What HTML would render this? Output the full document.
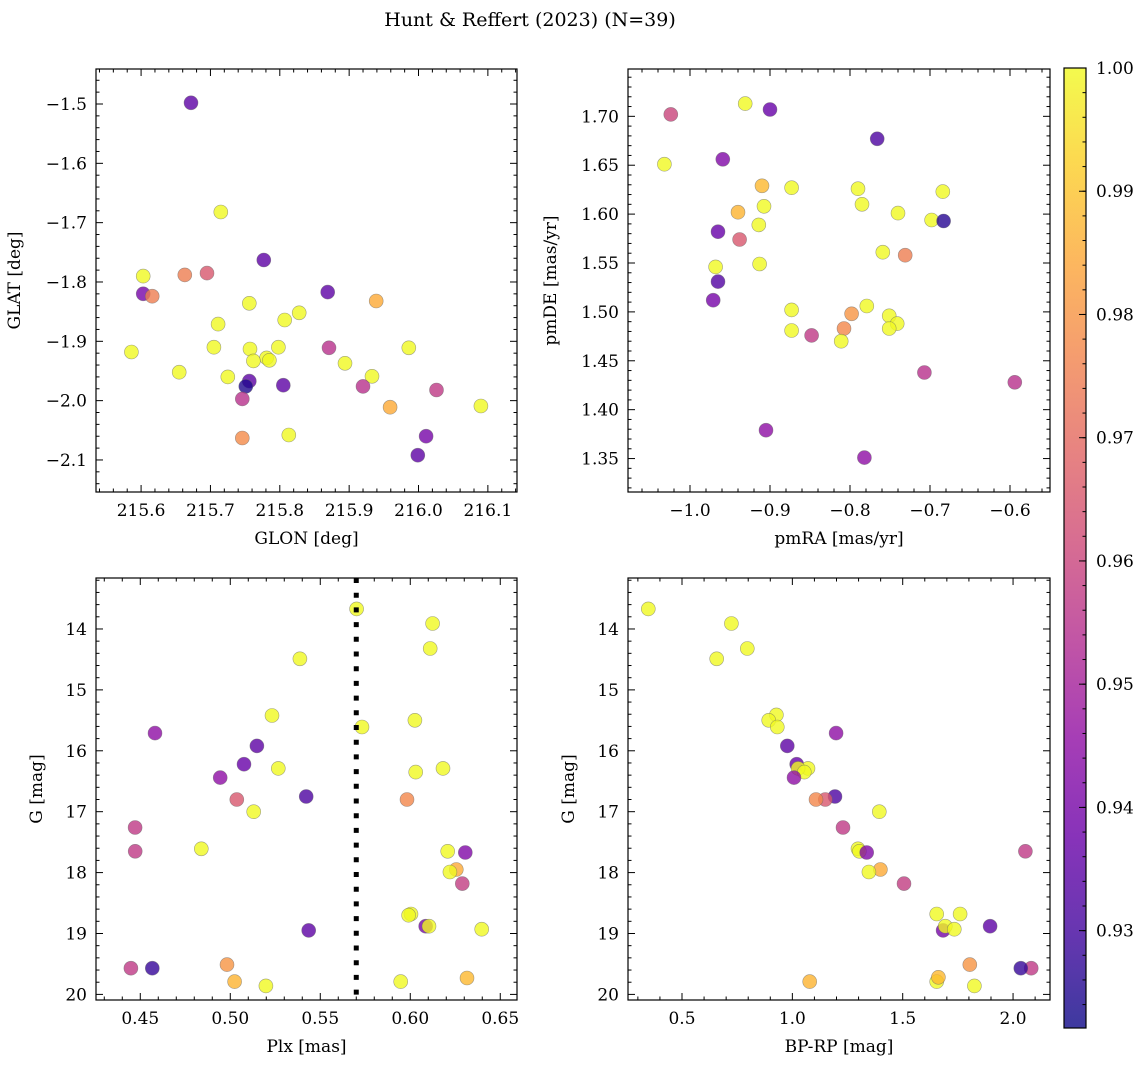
<!DOCTYPE html>
<html><head><meta charset="utf-8"><style>
html,body{margin:0;padding:0;background:#fff;}
svg{display:block;font-family:"DejaVu Serif","Liberation Serif",serif;}
</style></head><body>
<svg id="fig" width="1148" height="1068" viewBox="0 0 1148 1068" xmlns="http://www.w3.org/2000/svg">
<defs>
<linearGradient id="cbgrad" x1="0" y1="1" x2="0" y2="0">
<stop offset="0" stop-color="#0d0887"/><stop offset="0.1" stop-color="#41049d"/><stop offset="0.2" stop-color="#6a00a8"/><stop offset="0.3" stop-color="#8f0da4"/><stop offset="0.4" stop-color="#b12a90"/><stop offset="0.5" stop-color="#cc4778"/><stop offset="0.6" stop-color="#e16462"/><stop offset="0.7" stop-color="#f2844b"/><stop offset="0.8" stop-color="#fca636"/><stop offset="0.9" stop-color="#fcce25"/><stop offset="1" stop-color="#f0f921"/>
</linearGradient>
</defs>
<text x="530" y="26" font-size="19" text-anchor="middle">Hunt &amp; Reffert (2023) (N=39)</text>
</svg>
<script>
// ---- data ----
const glon = [215.672,215.715,215.777,215.603,215.603,215.616,215.663,215.695,215.756,215.869,215.939,215.828,215.807,215.711,215.586,215.705,215.757,215.798,215.781,215.762,215.785,215.871,215.986,215.894,215.655,215.725,215.933,215.756,215.751,215.805,215.920,216.026,215.746,215.959,216.090,215.746,215.813,216.011,215.999];
const glat = [-1.498,-1.682,-1.763,-1.820,-1.790,-1.824,-1.788,-1.785,-1.836,-1.817,-1.832,-1.852,-1.864,-1.871,-1.918,-1.910,-1.913,-1.910,-1.928,-1.933,-1.932,-1.911,-1.911,-1.937,-1.952,-1.960,-1.959,-1.967,-1.976,-1.974,-1.976,-1.982,-1.997,-2.011,-2.009,-2.063,-2.058,-2.060,-2.092];
const probTL = [0.935,1.0,0.935,0.94,1.0,0.975,0.975,0.965,1.0,0.935,0.985,1.0,1.0,1.0,1.0,1.0,1.0,1.0,1.0,1.0,1.0,0.955,1.0,1.0,1.0,1.0,1.0,0.935,0.925,0.935,0.955,0.957,0.955,0.985,1.0,0.978,1.0,0.94,0.935];

const pmra = [-1.024,-0.931,-0.900,-0.766,-1.032,-0.959,-0.910,-0.873,-0.790,-0.684,-0.9075,-0.785,-0.940,-0.740,-0.698,-0.683,-0.914,-0.965,-0.938,-0.759,-0.731,-0.968,-0.913,-0.965,-0.971,-0.779,-0.873,-0.798,-0.751,-0.741,-0.751,-0.8075,-0.873,-0.848,-0.811,-0.707,-0.594,-0.905,-0.782];
const pmde = [1.702,1.713,1.707,1.677,1.651,1.656,1.629,1.627,1.626,1.623,1.608,1.610,1.602,1.601,1.594,1.593,1.589,1.582,1.574,1.561,1.558,1.546,1.549,1.531,1.512,1.506,1.502,1.498,1.496,1.488,1.483,1.483,1.481,1.476,1.470,1.438,1.428,1.379,1.351];
const probTR = [0.96,1.0,0.937,0.932,1.0,0.942,0.988,1.0,1.0,1.0,1.0,1.0,0.987,1.0,1.0,0.926,1.0,0.937,0.965,1.0,0.975,1.0,1.0,0.933,0.94,1.0,1.0,0.98,1.0,1.0,1.0,0.977,1.0,0.957,1.0,0.955,0.955,0.945,0.945];

const plx = [0.5702,0.6124,0.6111,0.5387,0.5232,0.6026,0.5732,0.4582,0.5148,0.5076,0.5267,0.603,0.6182,0.4944,0.5422,0.5036,0.5982,0.513,0.4471,0.4472,0.4839,0.6208,0.6306,0.6256,0.622,0.6289,0.6004,0.5991,0.6086,0.6104,0.6397,0.5436,0.4448,0.4567,0.4982,0.5024,0.5198,0.5947,0.6315];
const gmagBL = [13.67,13.91,14.32,14.49,15.42,15.50,15.61,15.71,15.92,16.22,16.29,16.35,16.29,16.44,16.75,16.80,16.80,17.00,17.26,17.65,17.61,17.65,17.67,17.95,17.99,18.18,18.68,18.70,18.88,18.88,18.93,18.95,19.57,19.57,19.51,19.79,19.86,19.79,19.73];
const probBL = [1.0,1.0,1.0,1.0,1.0,1.0,1.0,0.945,0.935,0.937,1.0,1.0,1.0,0.945,0.932,0.965,0.977,1.0,0.957,0.957,1.0,1.0,0.942,0.985,1.0,0.958,1.0,1.0,0.94,1.0,1.0,0.935,0.957,0.928,0.98,0.987,1.0,1.0,0.988];

const bprp = [0.3474,0.7236,0.796,0.657,0.9275,0.8927,0.932,1.198,0.977,1.0196,1.071,1.026,1.054,1.0076,1.193,1.1495,1.107,1.394,1.2296,2.056,1.2976,1.3036,1.337,1.399,1.347,1.506,1.654,1.76,1.683,1.693,1.734,1.896,2.082,2.035,1.804,1.0785,1.825,1.654,1.6616];
const gmagBR = [13.67,13.91,14.32,14.49,15.41,15.50,15.61,15.71,15.92,16.22,16.29,16.29,16.35,16.44,16.75,16.80,16.80,17.00,17.26,17.65,17.61,17.65,17.67,17.95,17.99,18.18,18.68,18.68,18.95,18.88,18.93,18.88,19.57,19.57,19.51,19.79,19.86,19.79,19.72];
const probBR = [1.0,1.0,1.0,1.0,1.0,1.0,1.0,0.945,0.935,0.937,1.0,1.0,1.0,0.945,0.932,0.965,0.977,1.0,0.957,0.957,1.0,1.0,0.942,0.985,1.0,0.958,1.0,1.0,0.94,1.0,1.0,0.935,0.957,0.928,0.98,0.987,1.0,1.0,0.988];

const plxCut = [0.57];
const cbTicks = [0.93,0.94,0.95,0.96,0.97,0.98,0.99,1.00];

// ---- helpers ----
const NS = "http://www.w3.org/2000/svg";
const svg = document.getElementById('fig');
const VMIN = 0.9221, VMAX = 1.0;
const stops = [[13,8,135],[65,4,157],[106,0,168],[143,13,164],[177,42,144],[204,71,120],[225,100,98],[242,132,75],[252,166,54],[252,206,37],[240,249,33]];
function plasma(v){
  let t=(v-VMIN)/(VMAX-VMIN); t=Math.max(0,Math.min(1,t));
  const f=t*10, i=Math.min(9,Math.floor(f)), r=f-i;
  const a=stops[i], b=stops[i+1];
  return 'rgb('+a.map((c,k)=>Math.round(c+(b[k]-c)*r)).join(',')+')';
}
function mk(tag, attrs, parent){
  const e=document.createElementNS(NS,tag);
  for(const k in attrs) e.setAttribute(k,attrs[k]);
  (parent||svg).appendChild(e); return e;
}
function fmt(v,d){ const s=Math.abs(v).toFixed(d); return (v< -1e-9?'\u2212':'')+s; }

function panel(cfg){
  const g=mk('g',{});
  
  
  const {L,T,R,B}=cfg;
  const sx=v=>L+(v-cfg.x0)/(cfg.x1-cfg.x0)*(R-L);
  const sy=v=>T+(v-cfg.y0)/(cfg.y1-cfg.y0)*(B-T);
  const pg=mk('g',{},g);
  
  
  for(let i=0;i<cfg.xs.length;i++){
    const c=mk('circle',{cx:sx(cfg.xs[i]).toFixed(1),cy:sy(cfg.ys[i]).toFixed(1),r:7,fill:plasma(cfg.cs[i]),'fill-opacity':0.8,stroke:'#666','stroke-opacity':0.6,'stroke-width':0.6},pg);
    
    
  }
  if(cfg.vline){
    for(const v of cfg.vline){
      const l=mk('line',{x1:sx(v),x2:sx(v),y1:T,y2:B,stroke:'#000','stroke-width':5,'stroke-dasharray':'5 9.7'},g);
      
      
    }
  }
  const fr=mk('rect',{x:L,y:T,width:R-L,height:B-T,fill:'none',stroke:'#000','stroke-width':1.2},g);
  
  
  const xmin=Math.min(cfg.x0,cfg.x1), xmax=Math.max(cfg.x0,cfg.x1);
  for(let k=Math.ceil(xmin/cfg.xminor-1e-6);k*cfg.xminor<=xmax+1e-9;k++){
    const v=k*cfg.xminor, x=sx(v);
    const major=Math.abs(v/cfg.xmajor-Math.round(v/cfg.xmajor))<1e-6;
    const len=major?7:3.5;
    mk('line',{x1:x,x2:x,y1:B,y2:B-len,stroke:'#000','stroke-width':1},g);
    mk('line',{x1:x,x2:x,y1:T,y2:T+len,stroke:'#000','stroke-width':1},g);
    if(major){
      const t=mk('text',{x:x,y:B+24,'font-size':17,'text-anchor':'middle'},g);
      t.textContent=fmt(v,cfg.xd);
      
      
    }
  }
  const ymin=Math.min(cfg.y0,cfg.y1), ymax=Math.max(cfg.y0,cfg.y1);
  for(let k=Math.ceil(ymin/cfg.yminor-1e-6);k*cfg.yminor<=ymax+1e-9;k++){
    const v=k*cfg.yminor, y=sy(v);
    const major=Math.abs(v/cfg.ymajor-Math.round(v/cfg.ymajor))<1e-6;
    const len=major?7:3.5;
    mk('line',{x1:L,x2:L+len,y1:y,y2:y,stroke:'#000','stroke-width':1},g);
    mk('line',{x1:R,x2:R-len,y1:y,y2:y,stroke:'#000','stroke-width':1},g);
    if(major){
      const t=mk('text',{x:L-9,y:y+6,'font-size':17,'text-anchor':'end'},g);
      t.textContent=fmt(v,cfg.yd);
      
      
    }
  }
  const xl=mk('text',{x:(L+R)/2,y:B+52,'font-size':17,'text-anchor':'middle'},g);
  xl.textContent=cfg.xlabel;
  
  
  const yl=mk('text',{x:0,y:0,'font-size':17,'text-anchor':'middle',transform:'translate('+cfg.ylx+','+((T+B)/2)+') rotate(-90)'},g);
  yl.textContent=cfg.ylabel;
  
  
}

panel({name:'glon-glat-panel',L:96,T:69,R:517,B:492,x0:215.535,x1:216.142,y0:-1.441,y1:-2.154,xs:glon,ys:glat,cs:probTL,xmajor:0.1,xminor:0.02,ymajor:0.1,yminor:0.02,xd:1,yd:1,xlabel:'GLON [deg]',ylabel:'GLAT [deg]',ylx:20});
panel({name:'proper-motion-panel',L:628,T:69,R:1050,B:492,x0:-1.0775,x1:-0.55,y0:1.7484,y1:1.3158,xs:pmra,ys:pmde,cs:probTR,xmajor:0.1,xminor:0.02,ymajor:0.05,yminor:0.01,xd:1,yd:2,xlabel:'pmRA [mas/yr]',ylabel:'pmDE [mas/yr]',ylx:556});
panel({name:'parallax-mag-panel',L:96,T:578,R:517,B:1000,x0:0.4254,x1:0.6593,y0:13.163,y1:20.092,xs:plx,ys:gmagBL,cs:probBL,xmajor:0.05,xminor:0.01,ymajor:1,yminor:0.2,xd:2,yd:0,xlabel:'Plx [mas]',ylabel:'G [mag]',ylx:42,vline:plxCut});
panel({name:'cmd-panel',L:628,T:578,R:1050,B:1000,x0:0.2553,x1:2.1674,y0:13.163,y1:20.092,xs:bprp,ys:gmagBR,cs:probBR,xmajor:0.5,xminor:0.1,ymajor:1,yminor:0.2,xd:1,yd:0,xlabel:'BP-RP [mag]',ylabel:'G [mag]',ylx:574});

(function(){
  const L=1064,R=1086,T=68,B=1028;
  const g=mk('g',{});
  
  
  mk('rect',{x:L,y:T,width:R-L,height:B-T,fill:'url(#cbgrad)','fill-opacity':0.8},g);
  mk('rect',{x:L,y:T,width:R-L,height:B-T,fill:'none',stroke:'#000','stroke-width':1.2},g);
  const sy=v=>B-(v-VMIN)/(VMAX-VMIN)*(B-T);
  for(let k=Math.ceil(VMIN/0.002);k*0.002<=VMAX+1e-9;k++){
    const y=sy(k*0.002);
    mk('line',{x1:R,x2:R-3.5,y1:y,y2:y,stroke:'#000','stroke-width':1},g);
  }
  for(const v of cbTicks){
    const y=sy(v);
    mk('line',{x1:R,x2:R-7,y1:y,y2:y,stroke:'#000','stroke-width':1},g);
    const t=mk('text',{x:R+10,y:y+6,'font-size':17},g);
    t.textContent=v.toFixed(2);
    
    
  }
})();
</script>
</body></html>
